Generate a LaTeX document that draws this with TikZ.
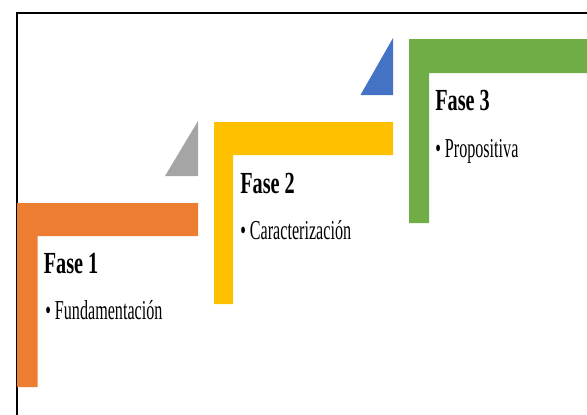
\documentclass[tikz,border=0pt]{standalone}
\usepackage{fontspec}
\newfontfamily\titlefont[FakeStretch=0.66]{Liberation Serif}
\newfontfamily\itemfont[FakeStretch=0.59]{Liberation Serif}
\definecolor{faseOrange}{RGB}{237, 125, 49}
\definecolor{faseGray}{RGB}{165, 165, 165}
\definecolor{faseYellow}{RGB}{255, 192, 0}
\definecolor{faseBlue}{RGB}{68, 114, 196}
\definecolor{faseGreen}{RGB}{112, 173, 71}
\tikzset{
  fasetitle/.style={anchor=base west,inner sep=0pt,font=\titlefont\bfseries\fontsize{23}{26}\selectfont},
  faseitem/.style={anchor=base west,inner sep=0pt,font=\itemfont\fontsize{20.5}{24}\selectfont}
}

\begin{document}
\begin{tikzpicture}[x=0.75pt,y=-0.75pt]
        \useasboundingbox (0,0) rectangle (587,415);
        \draw[line width=1.5pt] (17,415) -- (17,13) -- (587,13);
        % Fase 1
        \fill[faseOrange] (17,203) -- (198,203) -- (198,236) -- (37.5,236) -- (37.5,387) -- (17,387) -- cycle;
        \fill[faseGray] (165,176) -- (198,176) -- (198,121) -- cycle;
        \node[fasetitle] (fase1) at (43.5,273.5) {Fase 1};
        \node[faseitem] (fase1item) at (45,319.3) {\textbullet\ Fundamentación};
        % Fase 2
        \fill[faseYellow] (214,122) -- (393,122) -- (393,155) -- (233,155) -- (233,304) -- (214,304) -- cycle;
        \fill[faseBlue] (360.5,95) -- (393,95) -- (393,38) -- cycle;
        \node[fasetitle] (fase2) at (240,193.3) {Fase 2};
        \node[faseitem] (fase2item) at (240,239.3) {\textbullet\ Caracterización};
        % Fase 3
        \fill[faseGreen] (409,39) -- (587,39) -- (587,73) -- (429,73) -- (429,223) -- (409,223) -- cycle;
        \node[fasetitle] (fase3) at (435,110.7) {Fase 3};
        \node[faseitem] (fase3item) at (435,157.3) {\textbullet\ Propositiva};
      \end{tikzpicture}
\end{document}
